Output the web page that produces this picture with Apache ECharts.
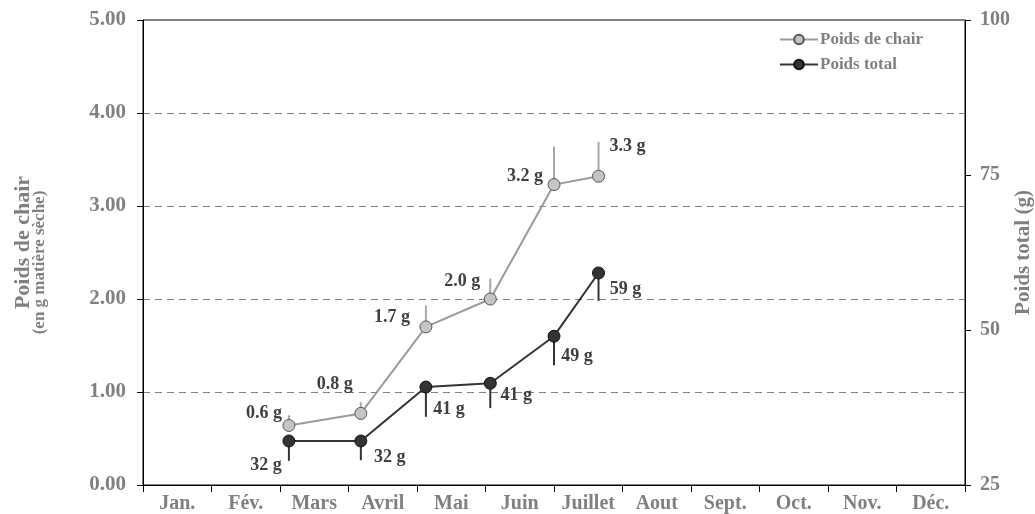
<!DOCTYPE html>
<html>
<head>
<meta charset="utf-8">
<script src="https://cdn.jsdelivr.net/npm/echarts@6/dist/echarts.min.js"></script>
<style>html,body{margin:0;padding:0;background:#fff;}#c{width:1035px;height:514px;}</style>
</head>
<body>
<div id="c"></div>
<script>
// ---- data ----
var months = ['Jan.', 'Fév.', 'Mars', 'Avril', 'Mai', 'Juin', 'Juillet', 'Aout', 'Sept.', 'Oct.', 'Nov.', 'Déc.'];
// sampling dates, in months from 1 January
var sampleMonths = [2.13, 3.18, 4.13, 5.07, 6.0, 6.65];
var chairValues = [0.64, 0.77, 1.70, 2.00, 3.23, 3.32];   // g matière sèche
var chairErrors = [0.11, 0.12, 0.23, 0.22, 0.41, 0.37];   // upward bars
var totalValues = [32.1, 32.1, 40.8, 41.4, 49.0, 59.2];   // g
var totalErrors = [3.2, 3.1, 4.8, 4.0, 4.7, 4.5];         // downward bars

// label placement (style only)
var chairLabelOffsets = [[-25, -12], [-26, -29], [-34, -10], [-28, -18], [-29, -8], [29, -30]];
var totalLabelOffsets = [[-23, 24], [29, 16], [23, 22], [26, 12], [23, 20], [27, 16]];

var FONT = 'Liberation Serif';
var GREY = '#808080';

function pts(vals, offsets, fmt) {
  return vals.map(function (v, i) {
    return {
      value: [sampleMonths[i], v],
      label: { offset: offsets[i], formatter: fmt(v) }
    };
  });
}
function errData(vals, errs) {
  return vals.map(function (v, i) { return [sampleMonths[i], v, errs[i]]; });
}
function errRender(dir, color) {
  return function (params, api) {
    var x = api.value(0), y = api.value(1), e = api.value(2);
    var p0 = api.coord([x, y]);
    var p1 = api.coord([x, y + dir * e]);
    return {
      type: 'line',
      shape: { x1: p0[0], y1: p0[1], x2: p1[0], y2: p1[1] },
      style: { stroke: color, lineWidth: 2 }
    };
  };
}

var chart = echarts.init(document.getElementById('c'));
chart.setOption({
  animation: false,
  textStyle: { fontFamily: FONT },
  grid: { left: 143, right: 70, top: 20, bottom: 29, outerBoundsMode: 'none', containLabel: false,
    show: true, borderColor: '#000', borderWidth: 1, backgroundColor: 'transparent' },
  legend: {
    data: ['Poids de chair', 'Poids total'],
    orient: 'vertical',
    left: 774, top: 26,
    itemWidth: 38, itemHeight: 12, itemGap: 8,
    textStyle: { fontFamily: FONT, fontWeight: 'bold', fontSize: 17, color: GREY, padding: [0, 0, 0, -3] }
  },
  xAxis: [{
    type: 'category',
    data: months,
    boundaryGap: true,
    axisLine: { lineStyle: { color: '#000', width: 1 } },
    axisTick: { show: true, length: 7, interval: 0, lineStyle: { color: '#000' } },
    axisLabel: { fontFamily: FONT, fontWeight: 'bold', fontSize: 20, color: GREY, margin: 9, interval: 0, hideOverlap: false },
    splitLine: { show: false }
  }, {
    type: 'value', min: 0, max: 12, show: false
  }],
  yAxis: [{
    type: 'value', min: 0, max: 5, interval: 1, position: 'left',
    axisLine: { show: true, lineStyle: { color: '#000', width: 1 } },
    axisTick: { show: true, length: 6, lineStyle: { color: '#000' } },
    axisLabel: { fontFamily: FONT, fontWeight: 'bold', fontSize: 21, color: GREY, margin: 17,
      formatter: function (v) { return v.toFixed(2); } },
    splitLine: { show: true, lineStyle: { color: GREY, type: [7, 5], width: 1 } },
    name: '{a|Poids de chair}\n{b|(en g matière sèche)}',
    nameLocation: 'middle', nameRotate: 90, nameGap: 96, nameMoveOverlap: false,
    nameTextStyle: {
      align: 'center',
      rich: {
        a: { fontFamily: FONT, fontWeight: 'bold', fontSize: 22, color: GREY, lineHeight: 18, align: 'center', padding: [0, 0, 0, 20] },
        b: { fontFamily: FONT, fontWeight: 'bold', fontSize: 17, color: GREY, lineHeight: 15, align: 'center', padding: [0, 20, 0, 0] }
      }
    }
  }, {
    type: 'value', min: 25, max: 100, interval: 25, position: 'right',
    axisLine: { show: true, lineStyle: { color: '#000', width: 1 } },
    axisTick: { show: true, length: 6, lineStyle: { color: '#000' } },
    axisLabel: { fontFamily: FONT, fontWeight: 'bold', fontSize: 20, color: GREY, margin: 15 },
    splitLine: { show: false },
    name: 'Poids total (g)',
    nameLocation: 'middle', nameRotate: 90, nameGap: 48, nameMoveOverlap: false,
    nameTextStyle: { fontFamily: FONT, fontWeight: 'bold', fontSize: 21, color: GREY }
  }],
  series: [{
    type: 'custom', xAxisIndex: 1, yAxisIndex: 0, z: 1,
    renderItem: errRender(1, '#a8a8a8'),
    data: errData(chairValues, chairErrors),
    silent: true
  }, {
    type: 'custom', xAxisIndex: 1, yAxisIndex: 1, z: 1,
    renderItem: errRender(-1, '#333333'),
    data: errData(totalValues, totalErrors),
    silent: true
  }, {
    name: 'Poids de chair', type: 'line', xAxisIndex: 1, yAxisIndex: 0, z: 3,
    symbol: 'circle', symbolSize: 12,
    lineStyle: { color: '#9a9a9a', width: 2 },
    itemStyle: { color: '#c4c4c4', borderColor: '#555', borderWidth: 1 },
    label: { show: true, position: 'inside', fontFamily: FONT, fontWeight: 'bold', fontSize: 18, color: '#404040' },
    data: pts(chairValues, chairLabelOffsets, function (v) { return v.toFixed(1) + ' g'; })
  }, {
    name: 'Poids total', type: 'line', xAxisIndex: 1, yAxisIndex: 1, z: 3,
    symbol: 'circle', symbolSize: 12,
    lineStyle: { color: '#333333', width: 2 },
    itemStyle: { color: '#333333', borderColor: '#111', borderWidth: 1 },
    label: { show: true, position: 'inside', fontFamily: FONT, fontWeight: 'bold', fontSize: 18, color: '#404040' },
    data: pts(totalValues, totalLabelOffsets, function (v) { return Math.round(v) + ' g'; })
  }]
});
</script>
</body>
</html>
